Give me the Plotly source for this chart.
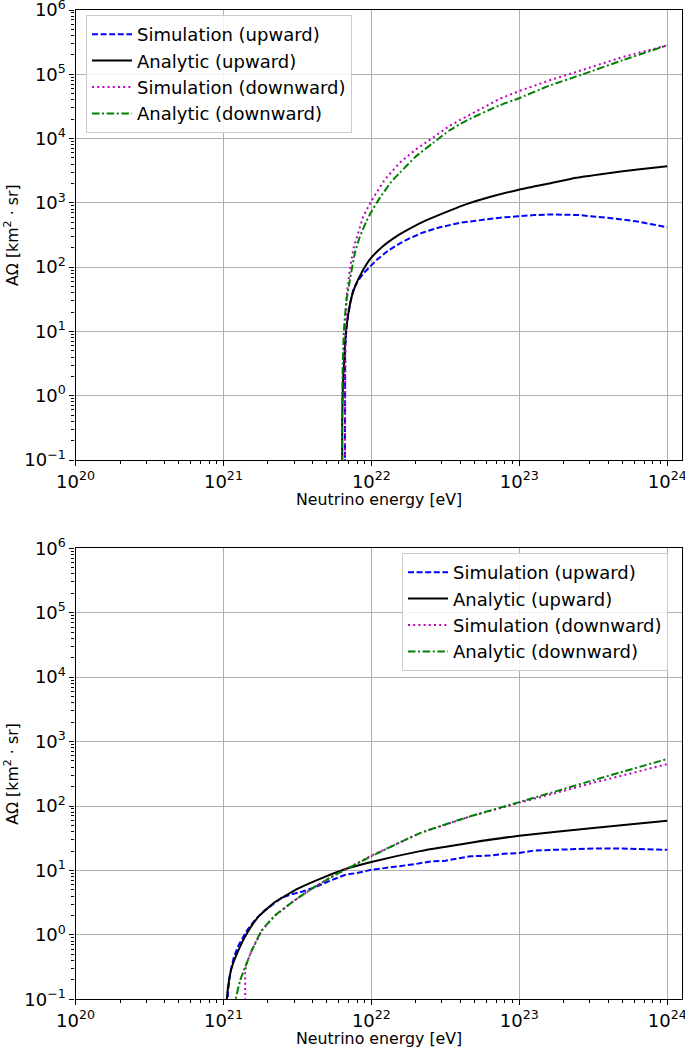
import plotly.graph_objects as go

# ---------------- data (log10 values) ----------------
# Top panel
top_logE_sim_up = [21.821, 21.821, 21.823, 21.832, 21.843, 21.86, 21.877, 21.91, 21.945, 22.035, 22.11,
                   22.193, 22.26, 22.35, 22.463, 22.6, 22.75, 22.87, 22.99, 23.1, 23.226, 23.4, 23.59, 23.8, 24.0]
top_logA_sim_up = [-1.5, 0.3, 0.75, 1.05, 1.27, 1.47, 1.64, 1.79, 1.9, 2.11, 2.25,
                   2.37, 2.45, 2.54, 2.62, 2.69, 2.74, 2.77, 2.79, 2.81, 2.82, 2.81, 2.77, 2.71, 2.62]

top_logE_an_up = [21.803, 21.803, 21.808, 21.814, 21.822, 21.832, 21.848, 21.866, 21.89, 21.922, 21.99,
                  22.08, 22.17, 22.26, 22.373, 22.53, 22.643, 22.8, 22.99, 23.2, 23.36, 23.6, 23.8, 24.0]
top_logA_an_up = [-1.5, -0.4, 0.2, 0.45, 0.8, 1.07, 1.33, 1.53, 1.7, 1.86, 2.12,
                  2.33, 2.48, 2.6, 2.73, 2.88, 2.98, 3.09, 3.2, 3.3, 3.38, 3.46, 3.52, 3.57]

top_logE_sim_dn = [21.821, 21.821, 21.824, 21.832, 21.843, 21.855, 21.88, 21.911, 21.945, 22.0, 22.09,
                   22.19, 22.3, 22.42, 22.53, 22.64, 22.87, 23.0, 23.21, 23.43, 23.7, 24.0]
top_logA_sim_dn = [-1.5, 0.3, 0.75, 1.55, 1.8, 1.97, 2.3, 2.53, 2.79, 3.03, 3.36,
                   3.62, 3.83, 4.02, 4.2, 4.34, 4.62, 4.74, 4.91, 5.07, 5.27, 5.45]

top_logE_an_dn = [21.803, 21.803, 21.806, 21.814, 21.83, 21.855, 21.889, 21.922, 21.968, 22.0, 22.05,
                  22.136, 22.193, 22.3, 22.416, 22.53, 22.643, 22.87, 22.99, 23.2, 23.43, 23.7, 24.0]
top_logA_an_dn = [-1.5, -0.3, 0.4, 1.0, 1.45, 1.8, 2.22, 2.47, 2.72, 2.86, 3.05,
                  3.33, 3.47, 3.72, 3.93, 4.13, 4.28, 4.52, 4.62, 4.82, 5.0, 5.22, 5.45]

# Bottom panel
bot_logE_sim_up = [21.03, 21.03, 21.045, 21.07, 21.1, 21.16, 21.22, 21.28, 21.39, 21.46, 21.53, 21.62,
                   21.71, 21.82, 21.9, 22.0, 22.1, 22.22, 22.3, 22.4, 22.5, 22.67, 22.8, 22.9, 23.0,
                   23.1, 23.3, 23.5, 23.7, 24.0]
bot_logA_sim_up = [-1.5, -0.9, -0.6, -0.35, -0.17, 0.07, 0.25, 0.38, 0.57, 0.63, 0.67, 0.74,
                   0.83, 0.93, 0.96, 1.01, 1.04, 1.07, 1.1, 1.14, 1.15, 1.22, 1.23, 1.26, 1.27,
                   1.31, 1.33, 1.34, 1.34, 1.32]

bot_logE_an_up = [21.02, 21.023, 21.034, 21.057, 21.101, 21.158, 21.236, 21.349, 21.507, 21.665,
                  21.811, 22.0, 22.33, 22.67, 23.0, 23.5, 24.0]
bot_logA_an_up = [-1.5, -1.0, -0.76, -0.5, -0.24, 0.02, 0.28, 0.51, 0.72, 0.88,
                  1.01, 1.13, 1.30, 1.43, 1.54, 1.66, 1.77]

bot_logE_sim_dn = [21.147, 21.147, 21.16, 21.192, 21.26, 21.349, 21.484, 21.62, 21.755, 21.823,
                   22.0, 22.33, 22.67, 23.0, 23.5, 24.0]
bot_logA_sim_dn = [-1.5, -0.55, -0.42, -0.24, 0.07, 0.3, 0.54, 0.75, 0.93, 1.01,
                   1.23, 1.58, 1.84, 2.05, 2.36, 2.65]

bot_logE_an_dn = [21.07, 21.084, 21.113, 21.147, 21.192, 21.26, 21.349, 21.484, 21.62, 21.755,
                  21.823, 22.0, 22.33, 22.67, 23.0, 23.5, 24.0]
bot_logA_an_dn = [-1.6, -1.0, -0.71, -0.5, -0.24, 0.07, 0.3, 0.54, 0.75, 0.93,
                  1.01, 1.22, 1.58, 1.84, 2.06, 2.4, 2.73]

series_names = ["Simulation (upward)", "Analytic (upward)",
                "Simulation (downward)", "Analytic (downward)"]
x_decades = [20, 21, 22, 23, 24]
y_decades = [-1, 0, 1, 2, 3, 4, 5, 6]
x_title = "Neutrino energy [eV]"
y_title = "AΩ [km<sup>2</sup> · sr]"

# ---------------- styling ----------------
FONT = "DejaVu Sans"
TICK_FS = 18
TITLE_FS = 15.8
LEG_FS = 18
styles = [
    dict(color="#0000ff", width=2, dash="6px,2.6px"),
    dict(color="#000000", width=2, dash="solid"),
    dict(color="#bf00bf", width=2, dash="2px,3.2px"),
    dict(color="#008000", width=2, dash="7.5px,2.6px,2px,2.6px"),
]
shapes = ["linear", "spline", "linear", "spline"]


def pw(v):
    return [10.0 ** t for t in v]


fig = go.Figure()
panels = [
    ("x", "y", "legend",
     [(top_logE_sim_up, top_logA_sim_up), (top_logE_an_up, top_logA_an_up),
      (top_logE_sim_dn, top_logA_sim_dn), (top_logE_an_dn, top_logA_an_dn)]),
    ("x2", "y2", "legend2",
     [(bot_logE_sim_up, bot_logA_sim_up), (bot_logE_an_up, bot_logA_an_up),
      (bot_logE_sim_dn, bot_logA_sim_dn), (bot_logE_an_dn, bot_logA_an_dn)]),
]
for xa, ya, lg, series in panels:
    for i, (le, la) in enumerate(series):
        fig.add_trace(go.Scatter(
            x=pw(le), y=pw(la), mode="lines", name=series_names[i],
            line=dict(styles[i], shape=shapes[i], smoothing=0.5),
            xaxis=xa, yaxis=ya, legend=lg,
            legendgroup=lg + str(i), showlegend=True, cliponaxis=True))

xticktext = [f"10<sup>{d}</sup>" for d in x_decades]
yticktext = [f"10<sup>{'−' if d < 0 else ''}{abs(d)}</sup>" for d in y_decades]
xminor = [m * 10.0 ** d for d in range(20, 24) for m in range(2, 10)]
yminor = [m * 10.0 ** d for d in range(-1, 6) for m in range(2, 10)]

W, H = 685, 1049
X0, X1 = 75.5, 682
TOP_Y0, TOP_Y1 = 10, 460
BOT_Y0, BOT_Y1 = 548.3, 999.3
xdom = [X0 / W, X1 / W]
ydom_top = [1 - TOP_Y1 / H, 1 - TOP_Y0 / H]
ydom_bot = [1 - BOT_Y1 / H, 1 - BOT_Y0 / H]

common_x = dict(
    type="log", range=[20, 24.1], tickmode="array",
    tickvals=[10.0 ** d for d in x_decades], ticktext=xticktext,
    showgrid=True, gridcolor="#b0b0b0", gridwidth=1,
    showline=True, linecolor="black", linewidth=1.2, mirror=True,
    ticks="outside", ticklen=5, tickwidth=1, tickcolor="black",
    minor=dict(tickmode="array", tickvals=xminor, ticks="outside", ticklen=3,
               tickwidth=0.8, tickcolor="black", showgrid=False),
    tickfont=dict(family=FONT, size=TICK_FS, color="black"),
    ticklabeloverflow="allow",
    zeroline=False, domain=xdom, automargin=False,
)
common_y = dict(
    type="log", range=[-1, 6], tickmode="array",
    tickvals=[10.0 ** d for d in y_decades], ticktext=yticktext,
    showgrid=True, gridcolor="#b0b0b0", gridwidth=1,
    showline=True, linecolor="black", linewidth=1.2, mirror=True,
    ticks="outside", ticklen=5, tickwidth=1, tickcolor="black",
    minor=dict(tickmode="array", tickvals=yminor, ticks="outside", ticklen=3,
               tickwidth=0.8, tickcolor="black", showgrid=False),
    tickfont=dict(family=FONT, size=TICK_FS, color="black"),
    ticklabeloverflow="allow",
    zeroline=False, automargin=False,
)

legend_common = dict(
    bgcolor="rgba(255,255,255,0.85)", bordercolor="#cccccc", borderwidth=1,
    font=dict(family=FONT, size=LEG_FS, color="black"),
    xanchor="left", yanchor="top", tracegroupgap=0, itemwidth=40,
)

title_font = dict(family=FONT, size=TITLE_FS, color="black")
annotations = []
for (y0, y1) in [(TOP_Y0, TOP_Y1), (BOT_Y0, BOT_Y1)]:
    annotations.append(dict(
        text=x_title, xref="paper", yref="paper",
        x=(X0 + X1) / 2 / W, y=1 - (y1 + 39) / H,
        xanchor="center", yanchor="middle", showarrow=False, font=title_font))
    annotations.append(dict(
        text=y_title, xref="paper", yref="paper",
        x=12 / W, y=1 - (y0 + y1) / 2 / H, textangle=-90,
        xanchor="center", yanchor="middle", showarrow=False, font=title_font))

fig.update_layout(
    width=W, height=H,
    margin=dict(l=0, r=0, t=0, b=0, autoexpand=False),
    paper_bgcolor="white", plot_bgcolor="white",
    xaxis=dict(common_x, anchor="y"),
    yaxis=dict(common_y, domain=ydom_top, anchor="x"),
    xaxis2=dict(common_x, anchor="y2"),
    yaxis2=dict(common_y, domain=ydom_bot, anchor="x2"),
    legend=dict(legend_common, x=86 / W, y=1 - 15 / H),
    legend2=dict(legend_common, x=402 / W, y=1 - 553 / H),
    annotations=annotations,
    showlegend=True,
)

fig.write_html("out.html", config={"displayModeBar": False},
               post_script="document.body.style.margin='0';document.body.style.overflow='hidden';")
